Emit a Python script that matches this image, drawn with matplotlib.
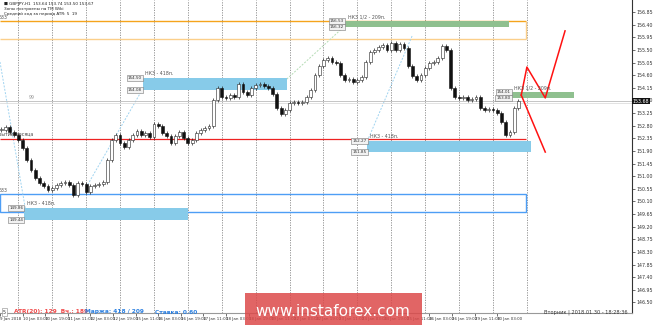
import matplotlib
matplotlib.use("Agg")
import matplotlib.pyplot as plt
from matplotlib.patches import Rectangle
import numpy as np

# GBPJPY H1, closes sampled every 3 trading hours from 9 Jan 11:00
closes = [152.65, 152.75, 152.57, 152.47, 152.29, 152.00, 151.58, 151.22, 150.94, 150.76,
          150.65, 150.51, 150.58, 150.69, 150.76, 150.79, 150.69, 150.33, 150.76, 150.72,
          150.44, 150.65, 150.69, 150.72, 150.79, 151.58, 152.29, 152.47, 152.18, 152.04,
          152.29, 152.47, 152.61, 152.47, 152.54, 152.40, 152.86, 152.79, 152.54, 152.43,
          152.18, 152.43, 152.57, 152.36, 152.18, 152.29, 152.54, 152.65, 152.72, 152.79,
          153.72, 154.14, 153.82, 153.79, 153.89, 153.82, 154.29, 154.00, 153.89, 154.14,
          154.25, 154.29, 154.21, 154.14, 153.93, 153.43, 153.22, 153.36, 153.61, 153.64,
          153.61, 153.64, 153.82, 154.07, 154.61, 154.93, 155.14, 155.21, 155.07, 155.03,
          154.61, 154.43, 154.46, 154.36, 154.43, 154.54, 155.07, 155.43, 155.50, 155.61,
          155.68, 155.50, 155.75, 155.50, 155.71, 155.57, 154.93, 154.57, 154.43, 154.61,
          154.86, 155.03, 155.07, 155.21, 155.64, 155.50, 154.14, 153.82, 153.79, 153.82,
          153.72, 153.75, 153.82, 153.43, 153.36, 153.40, 153.36, 153.25, 152.93, 152.47,
          152.57, 153.43, 153.68]

xtick_labels = ["9 Jan 2018", "10 Jan 03:00", "10 Jan 19:00", "11 Jan 11:00", "12 Jan 03:00",
                "12 Jan 19:00", "15 Jan 11:00", "16 Jan 03:00", "16 Jan 19:00", "17 Jan 11:00",
                "18 Jan 03:00", "18 Jan 19:00", "19 Jan 11:00", "22 Jan 03:00", "22 Jan 19:00",
                "23 Jan 11:00", "24 Jan 03:00", "24 Jan 19:00", "25 Jan 11:00", "26 Jan 03:00",
                "26 Jan 19:00", "29 Jan 11:00", "30 Jan 03:00"]
price_ticks = [156.85, 156.40, 155.95, 155.50, 155.05, 154.60, 154.15, 153.70, 153.25, 152.80,
               152.35, 151.90, 151.45, 151.00, 150.55, 150.10, 149.65, 149.20, 148.75, 148.30,
               147.85, 147.40, 146.95, 146.50]

# zones: (top, bottom, start hour, end hour, label)
blue_zones = [(154.50, 154.08, 101, 203, "НКЗ - 418п."),
              (152.27, 151.85, 260, 376, "НКЗ - 418п."),
              (149.86, 149.44, 17, 133, "НКЗ - 418п.")]
green_zones = [(156.53, 156.32, 244, 360, "НКЗ 1/2 - 209п."),
               (154.01, 153.80, 362, 406, "НКЗ 1/2 - 209п.")]
orange_box = (156.52, 155.887)
blue_box = (150.36, 149.727)
month_open = 152.33
box_end = 372.4

# forecast zigzags (hour, price)
zig_up_x = [369, 373, 386, 400]
zig_up_y = [153.89, 154.89, 153.79, 156.18]
zig_dn_x = [369, 386]
zig_dn_y = [153.89, 151.86]

# faint fibo lines
fibo_lines = [([0, 18], [155.07, 149.83], "#9fd3f0"),
              ([62, 101], [150.69, 154.11], "#9fd3f0"),
              ([203, 244], [154.46, 156.35], "#b5dcb5"),
              ([260, 292], [152.25, 156.03], "#9fd3f0")]

narrow = ["Liberation Sans Narrow", "DejaVu Sans"]

fig = plt.figure(figsize=(6.65, 3.25), dpi=100)
ax = fig.add_axes([0, 12 / 325, 632 / 665, 313 / 325])
ax.set_xlim(0, 447.4)
ax.set_ylim(146.124, 157.28)

# day separators
for d in range(16):
    ax.axvline(13 + 24 * d, color="#888888", ls=(0, (1.5, 1.5)), lw=0.6, zorder=0)

# orange and blue outline boxes
ax.hlines(orange_box[0], 0, box_end, color="#f5a41c", lw=1.0, zorder=1)
ax.hlines(orange_box[1], 0, box_end, color="#fbcf8a", lw=1.0, zorder=1)
ax.vlines(box_end, orange_box[1], orange_box[0], color="#fbcf8a", lw=1.0, zorder=1)
ax.add_patch(Rectangle((0, blue_box[1]), box_end, blue_box[0] - blue_box[1],
                       fill=False, edgecolor="#4d9ef5", lw=1.0, zorder=1))
ax.text(-1, orange_box[0] + 0.03, "633", fontsize=3.4, color="#555555", va="bottom")
ax.text(-1, blue_box[0] + 0.03, "633", fontsize=3.4, color="#555555", va="bottom")

# month open
ax.hlines(month_open, 0, box_end, color="#ee2222", lw=0.9, zorder=2)
ax.text(-8, month_open + 0.05, "Открытие месяца", fontsize=3.4, color="#444444",
        va="bottom", clip_on=True)

for xs, ys, c in fibo_lines:
    ax.plot(xs, ys, color=c, lw=0.7, ls=(0, (2, 1.5)), zorder=1)


def zone(top, bot, x0, x1, text, color):
    ax.add_patch(Rectangle((x0, bot), x1 - x0, top - bot, facecolor=color,
                           edgecolor="none", zorder=2))
    for v in (top, bot):
        ax.text(x0 - 0.5, v, "%.2f" % v, fontsize=3.0, ha="right", va="center",
                color="#333333", zorder=6,
                bbox=dict(boxstyle="square,pad=0.25", fc="#f2f2f2", ec="#777777", lw=0.4))
    ax.text(x0 + 2, top + 0.06, text, fontsize=3.4, color="#555555", va="bottom", zorder=6)


for top, bot, x0, x1, t in blue_zones:
    zone(top, bot, x0, x1, t, "#87cbe9")
for top, bot, x0, x1, t in green_zones:
    zone(top, bot, x0, x1, t, "#8fc08f")

# current price line
last = closes[-1]
ax.axhline(last, color="#bbbbbb", lw=0.6, zorder=1)
ax.axhline(last - 0.06, color="#dddddd", lw=0.6, zorder=1)
ax.text(20, last + 0.05, "99", fontsize=3.4, color="#999999", va="bottom")

# candles
c = np.array(closes)
o = np.r_[c[0], c[:-1]]
x = np.arange(len(c)) * 3 + 1
bot = np.minimum(o, c)
h = np.maximum(np.abs(c - o), 0.04)
up = c >= o
ax.vlines(x, bot - 0.07, bot + h + 0.07, color="#222222", lw=0.5, zorder=3)
ax.bar(x[up], h[up], bottom=bot[up], width=2.0, color="#ffffff", edgecolor="#222222",
       lw=0.4, zorder=4)
ax.bar(x[~up], h[~up], bottom=bot[~up], width=2.0, color="#111111", edgecolor="#111111",
       lw=0.4, zorder=4)

ax.plot(zig_up_x, zig_up_y, color="#ff1111", lw=1.1, zorder=5)
ax.plot(zig_dn_x, zig_dn_y, color="#ff1111", lw=1.1, zorder=5)

# axes styling
for s in ("left", "top"):
    ax.spines[s].set_visible(False)
ax.spines["right"].set_color("#333333")
ax.spines["bottom"].set_color("#999999")
ax.yaxis.tick_right()
ax.set_yticks(price_ticks)
ax.set_yticklabels(["%.2f" % p for p in price_ticks])
ax.tick_params(axis="y", labelsize=3.4, length=2, width=0.5, pad=1.5, colors="#333333")
ax.set_xticks(np.arange(len(xtick_labels)) * 16)
ax.set_xticklabels(xtick_labels, ha="left", family=narrow)
ax.tick_params(axis="x", labelsize=2.9, length=2, width=0.5, pad=1, colors="#333333")
ax.text(448, last, "%.2f" % last, fontsize=3.4, color="white", va="center",
        ha="left", clip_on=False, zorder=7,
        bbox=dict(boxstyle="square,pad=0.2", fc="#111111", ec="none"))

# header
fig.text(4 / 665, 1 - 3.5 / 325, "\u25a0 GBPJPY,H1  153.64 153.74 153.50 153.67", fontsize=3.0,
         color="#222222", va="center")
fig.text(4 / 665, 1 - 9 / 325, "Зоны построены на ТМ Wiki", fontsize=3.0,
         color="#222222", va="center")
fig.text(4 / 665, 1 - 14.5 / 325, "Средний ход за период ATR: 5  19", fontsize=3.0,
         color="#222222", va="center")

# bottom info
yb = 1 - 312 / 325
fig.text(3 / 665, yb, "5", fontsize=3.4, color="#333333", va="center",
         bbox=dict(boxstyle="square,pad=0.3", fc="white", ec="#888888", lw=0.4))
fig.text(14 / 665, yb, "ATR(20): 129  Вч.: 189", fontsize=4.2, color="#f04848",
         weight="bold", va="center")
fig.text(85 / 665, yb, "Маржа: 418 / 209", fontsize=4.2, color="#2a7fe0",
         weight="bold", va="center")
fig.text(155 / 665, yb, "Ставка: 0.60", fontsize=4.2, color="#2a7fe0",
         weight="bold", va="center")
fig.text(628 / 665, yb, "Вторник | 2018.01.30 - 18:28:36", fontsize=3.6, color="#333333",
         va="center", ha="right")

# watermark
fig.patches.append(Rectangle((245 / 665, 0), 177 / 665, 32 / 325, transform=fig.transFigure,
                             facecolor="#dc4a4a", alpha=0.85, edgecolor="none", zorder=10))
fig.text(333 / 665, 14 / 325, "www.instaforex.com", fontsize=11, color="white",
         ha="center", va="center", zorder=11)

fig.savefig("out.png", dpi=100)
